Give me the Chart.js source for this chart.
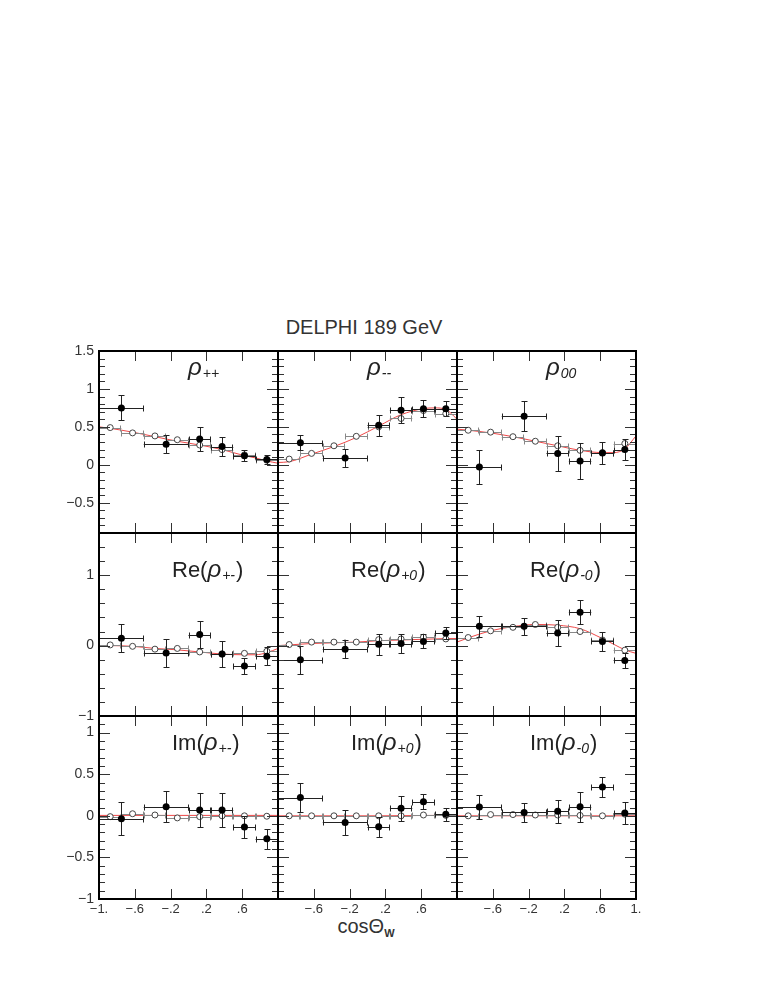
<!DOCTYPE html>
<html>
<head>
<meta charset="utf-8">
<title>DELPHI 189 GeV - W spin density matrix</title>
<script src="https://cdn.jsdelivr.net/npm/chart.js@4.4.1/dist/chart.umd.min.js"></script>
<style>
  body { margin: 0; background: #fff; }
  #wrap { position: relative; width: 763px; height: 987px; font-family: "Liberation Sans", Arial, sans-serif; color: #333; }
  .panel { position: absolute; }
  #title { position: absolute; left: 0; width: 728px; top: 315px; text-align: center; font-size: 20px; line-height: 24px; }
  #xlabel { position: absolute; left: 0; width: 732px; top: 914px; text-align: center; font-size: 20px; line-height: 24px; }
  #xlabel sub { font-size: 11px; font-weight: bold; vertical-align: -4px; }
</style>
</head>
<body>
<div id="wrap">
  <div id="title">DELPHI 189 GeV</div>
  <div id="xlabel">cosΘ<sub>W</sub></div>
</div>
<script>
// bins of the measured points (cos theta_W)
const binX  = [-0.75, -0.25, 0.125, 0.375, 0.625, 0.875];
const binLo = [-1, -0.5, 0, 0.25, 0.5, 0.75];
const binHi = [-0.5, 0, 0.25, 0.5, 0.75, 1];
// simulation points (open circles) and fitted curve abscissae
const mcX  = [-0.875, -0.625, -0.375, -0.125, 0.125, 0.375, 0.625, 0.875];
const fitX = [-1, -0.875, -0.625, -0.375, -0.125, 0.125, 0.375, 0.625, 0.75, 0.875, 1];

// rho++
const rhoPP    = [0.75, 0.27, 0.34, 0.24, 0.12, 0.07];
const rhoPPerr = [0.165, 0.12, 0.155, 0.125, 0.07, 0.06];
const rhoPPmc  = [0.49, 0.42, 0.38, 0.33, 0.26, 0.20, 0.13, 0.06];
const rhoPPfit = [0.50, 0.48, 0.43, 0.37, 0.31, 0.26, 0.20, 0.12, 0.09, 0.05, 0.02];
// rho--
const rhoMM    = [0.29, 0.09, 0.52, 0.72, 0.74, 0.74];
const rhoMMerr = [0.10, 0.12, 0.14, 0.17, 0.11, 0.10];
const rhoMMmc  = [0.075, 0.15, 0.25, 0.375, 0.50, 0.61, 0.715, 0.675];
const rhoMMfit = [0.03, 0.04, 0.14, 0.24, 0.36, 0.51, 0.66, 0.74, 0.75, 0.73, 0.60];
// rho00
const rho00    = [-0.03, 0.64, 0.15, 0.05, 0.155, 0.20];
const rho00err = [0.22, 0.20, 0.23, 0.24, 0.145, 0.14];
const rho00mc  = [0.455, 0.43, 0.37, 0.31, 0.25, 0.19, 0.16, 0.28];
const rho00fit = [0.47, 0.455, 0.42, 0.37, 0.31, 0.25, 0.19, 0.16, 0.16, 0.21, 0.38];
// Re(rho+-)
const rePM    = [0.105, -0.105, 0.157, -0.12, -0.29, -0.15];
const rePMerr = [0.20, 0.20, 0.19, 0.19, 0.12, 0.13];
const rePMmc  = [0.01, -0.01, -0.05, -0.04, -0.09, -0.12, -0.11, -0.08];
const rePMfit = [0.0, 0.0, -0.01, -0.04, -0.06, -0.09, -0.12, -0.13, -0.13, -0.10, -0.04];
// Re(rho+0)
const reP0    = [-0.20, -0.05, 0.02, 0.03, 0.06, 0.18];
const reP0err = [0.20, 0.13, 0.15, 0.13, 0.10, 0.08];
const reP0mc  = [0.015, 0.05, 0.05, 0.05, 0.085, 0.095, 0.12, 0.095];
const reP0fit = [0.0, 0.01, 0.03, 0.04, 0.05, 0.07, 0.08, 0.09, 0.095, 0.10, 0.10];
// Re(rho-0)
const reM0    = [0.275, 0.275, 0.18, 0.475, 0.06, -0.21];
const reM0err = [0.15, 0.12, 0.18, 0.17, 0.13, 0.105];
const reM0mc  = [0.115, 0.21, 0.26, 0.30, 0.26, 0.20, 0.08, -0.065];
const reM0fit = [0.05, 0.11, 0.21, 0.27, 0.30, 0.29, 0.24, 0.10, 0.02, -0.06, -0.11];
// Im(rho+-)
const imPM    = [-0.035, 0.11, 0.07, 0.07, -0.135, -0.275];
const imPMerr = [0.20, 0.19, 0.20, 0.21, 0.13, 0.12];
const imPMmc  = [-0.01, 0.025, 0.01, -0.025, -0.01, 0.0, 0.0, -0.005];
const imPMfit = [0.005, 0.005, 0.005, 0.005, 0.005, 0.005, 0.005, 0.005, 0.005, 0.005, 0.005];
// Im(rho+0)
const imP0    = [0.22, -0.08, -0.13, 0.09, 0.17, 0.02];
const imP0err = [0.18, 0.15, 0.12, 0.15, 0.09, 0.08];
const imP0mc  = [0.0, 0.0, 0.0, 0.0, 0.0, 0.0, 0.01, 0.005];
const imP0fit = [0.0, 0.0, 0.0, 0.0, 0.0, 0.0, 0.002, 0.004, 0.005, 0.005, 0.005];
// Im(rho-0)
const imM0    = [0.105, 0.04, 0.055, 0.11, 0.345, 0.035];
const imM0err = [0.14, 0.12, 0.14, 0.18, 0.12, 0.13];
const imM0mc  = [0.0, 0.015, 0.015, 0.01, 0.01, 0.005, 0.0, 0.02];
const imM0fit = [0.0, 0.0, 0.0, 0.0, 0.0, 0.0, 0.0, 0.0, 0.0, 0.0, 0.0];

// axis tick labels
const xTickVals = [-1, -0.6, -0.2, 0.2, 0.6, 1];
const yTicksTop = [-0.5, 0, 0.5, 1, 1.5];
const yTicksMid = [-1, 0, 1];
const yTicksBot = [-1, -0.5, 0, 0.5, 1];

const rowAxes = [
  { min: -0.9, max: 1.5, ticks: yTicksTop, minor: 0.1, major: 0.5 },
  { min: -1,   max: 1.6, ticks: yTicksMid, minor: 0.2, major: 1 },
  { min: -1,   max: 1.2, ticks: yTicksBot, minor: 0.1, major: 0.5 }
];

const panels = [
  { val: rhoPP, err: rhoPPerr, mc: rhoPPmc, fit: rhoPPfit, pre: '', sub: '++', post: '' },
  { val: rhoMM, err: rhoMMerr, mc: rhoMMmc, fit: rhoMMfit, pre: '', sub: '--', post: '' },
  { val: rho00, err: rho00err, mc: rho00mc, fit: rho00fit, pre: '', sub: '00', post: '' },
  { val: rePM, err: rePMerr, mc: rePMmc, fit: rePMfit, pre: 'Re(', sub: '+-', post: ')' },
  { val: reP0, err: reP0err, mc: reP0mc, fit: reP0fit, pre: 'Re(', sub: '+0', post: ')' },
  { val: reM0, err: reM0err, mc: reM0mc, fit: reM0fit, pre: 'Re(', sub: '-0', post: ')' },
  { val: imPM, err: imPMerr, mc: imPMmc, fit: imPMfit, pre: 'Im(', sub: '+-', post: ')' },
  { val: imP0, err: imP0err, mc: imP0mc, fit: imP0fit, pre: 'Im(', sub: '+0', post: ')' },
  { val: imM0, err: imM0err, mc: imM0mc, fit: imM0fit, pre: 'Im(', sub: '-0', post: ')' }
];

// page geometry of the 3x3 grid
const colLeft = [99, 278, 457];
const colW = 179;
const rowTop = [351, 533, 716];
const rowH = [182, 183, 183];
const labelPos = [ { dx: 89, dy: 24 }, { dx: 73, dy: 44 }, { dx: 73, dy: 34 } ];

const FONT = '"Liberation Sans", Arial, sans-serif';

function fmtY(v) {
  if (v === 0) return '0';
  return (v < 0 ? '\u2212' : '') + Math.abs(v);
}
function fmtX(v) {
  const a = Math.abs(v);
  const s = a === 1 ? '1.' : String(a).replace(/^0/, '');
  return (v < 0 ? '\u2212' : '') + s;
}

function line(ctx, x0, y0, x1, y1) {
  ctx.beginPath();
  ctx.moveTo(x0, y0);
  ctx.lineTo(x1, y1);
  ctx.stroke();
}

// keep the plot area fixed: no extra room reserved for edge labels
function noPadding(s) {
  s.paddingLeft = 0;
  s.paddingRight = 0;
  s.paddingTop = 0;
  s.paddingBottom = 0;
}

// error bars, inward ticks, frame and panel label
const panelDeco = {
  id: 'panelDeco',
  beforeDatasetDraw(chart, args) {
    const ds = chart.data.datasets[args.index];
    if (!ds.bars) return;
    const ctx = chart.ctx;
    const xs = chart.scales.x, ys = chart.scales.y;
    ctx.save();
    ctx.strokeStyle = ds.barColor;
    ctx.lineWidth = 1;
    ds.data.forEach(p => {
      const px = Math.round(xs.getPixelForValue(p.x)) + 0.5;
      const py = Math.round(ys.getPixelForValue(p.y)) + 0.5;
      const x0 = xs.getPixelForValue(p.xlo), x1 = xs.getPixelForValue(p.xhi);
      line(ctx, x0, py, x1, py);
      line(ctx, Math.round(x0) + 0.5, py - 3, Math.round(x0) + 0.5, py + 3);
      line(ctx, Math.round(x1) - 0.5, py - 3, Math.round(x1) - 0.5, py + 3);
      if (p.ey) {
        const y0 = Math.round(ys.getPixelForValue(p.y - p.ey)) + 0.5;
        const y1 = Math.round(ys.getPixelForValue(p.y + p.ey)) + 0.5;
        line(ctx, px, y0, px, y1);
        line(ctx, px - 3, y0, px + 3, y0);
        line(ctx, px - 3, y1, px + 3, y1);
      }
    });
    ctx.restore();
  },
  afterDraw(chart, args, opts) {
    const ctx = chart.ctx;
    const { left, right, top, bottom } = chart.chartArea;
    const xs = chart.scales.x, ys = chart.scales.y;
    const ax = opts.axis;
    ctx.save();
    ctx.strokeStyle = '#333';
    ctx.lineWidth = 1;
    for (let k = Math.ceil(ax.min / ax.minor - 1e-6); k * ax.minor < ax.max - 1e-6; k++) {
      const v = k * ax.minor;
      if (v <= ax.min + 1e-6) continue;
      const py = Math.round(ys.getPixelForValue(v)) + 0.5;
      const r = v / ax.major;
      const len = Math.abs(r - Math.round(r)) < 1e-6 ? 11 : 6;
      line(ctx, left, py, left + len, py);
      line(ctx, right, py, right - len, py);
    }
    xTickVals.forEach(v => {
      if (Math.abs(v) === 1) return;
      const px = Math.round(xs.getPixelForValue(v)) + 0.5;
      line(ctx, px, top, px, top + 10);
      line(ctx, px, bottom, px, bottom - 10);
    });
    ctx.strokeStyle = '#000';
    ctx.lineWidth = 2;
    ctx.strokeRect(left, top, right - left, bottom - top);

    // panel label
    const lab = opts.label;
    let x = left + lab.dx;
    const y = top + lab.dy;
    ctx.fillStyle = '#222';
    ctx.textBaseline = 'alphabetic';
    ctx.textAlign = 'left';
    ctx.font = '22px ' + FONT;
    if (lab.pre) { ctx.fillText(lab.pre, x, y); x += ctx.measureText(lab.pre).width; }
    ctx.font = 'italic 24px ' + FONT;
    ctx.fillText('\u03C1', x, y);
    x += ctx.measureText('\u03C1').width + 1;
    ctx.font = 'italic 14px ' + FONT;
    ctx.fillText(lab.sub, x, y + 3);
    x += ctx.measureText(lab.sub).width + 1;
    ctx.font = '22px ' + FONT;
    if (lab.post) ctx.fillText(lab.post, x, y);
    ctx.restore();
  }
};

const wrap = document.getElementById('wrap');

panels.forEach((p, i) => {
  const r = Math.floor(i / 3), c = i % 3;
  const padL = c === 0 ? 50 : 0;
  const padR = c === 2 ? 14 : 0;
  const padT = 12;
  const padB = r === 2 ? 28 : 12;
  const w = colW + padL + padR;
  const h = rowH[r] + padT + padB;

  const box = document.createElement('div');
  box.className = 'panel';
  box.style.left = (colLeft[c] - padL) + 'px';
  box.style.top = (rowTop[r] - padT) + 'px';
  box.style.width = w + 'px';
  box.style.height = h + 'px';
  const canvas = document.createElement('canvas');
  canvas.width = w;
  canvas.height = h;
  canvas.style.width = w + 'px';
  canvas.style.height = h + 'px';
  box.appendChild(canvas);
  wrap.appendChild(box);

  const ax = rowAxes[r];
  const measured = binX.map((x, k) => ({ x: x, y: p.val[k], xlo: binLo[k], xhi: binHi[k], ey: p.err[k] }));
  const simulated = mcX.map((x, k) => ({ x: x, y: p.mc[k], xlo: x - 0.125, xhi: x + 0.125, ey: 0 }));
  const curve = fitX.map((x, k) => ({ x: x, y: p.fit[k] }));

  new Chart(canvas, {
    type: 'scatter',
    data: {
      datasets: [
        {
          label: 'data', data: measured, order: 0,
          bars: true, barColor: '#222',
          pointRadius: 3.5, pointHoverRadius: 3.5,
          backgroundColor: '#000', borderColor: '#000', borderWidth: 0
        },
        {
          label: 'simulation', data: simulated, order: 1,
          bars: true, barColor: '#888',
          pointRadius: 3, pointHoverRadius: 3,
          backgroundColor: '#fff', borderColor: '#444', borderWidth: 1
        },
        {
          label: 'fit', data: curve, order: 2,
          showLine: true, cubicInterpolationMode: 'monotone',
          pointRadius: 0, borderColor: 'rgba(235,40,40,0.85)', borderWidth: 1
        }
      ]
    },
    options: {
      responsive: false,
      animation: false,
      events: [],
      layout: { autoPadding: false, padding: { left: 0, right: padR, top: padT, bottom: r === 2 ? 0 : padB } },
      plugins: {
        legend: { display: false },
        tooltip: { enabled: false },
        panelDeco: { axis: ax, label: Object.assign({}, p, labelPos[r]) }
      },
      scales: {
        x: {
          type: 'linear', min: -1, max: 1,
          display: r === 2,
          grid: { display: false, drawTicks: false },
          border: { display: false },
          afterBuildTicks: s => { s.ticks = xTickVals.map(v => ({ value: v })); },
          afterFit: s => { s.height = r === 2 ? padB : 0; noPadding(s); },
          ticks: {
            autoSkip: false, maxRotation: 0, padding: 3,
            color: '#333', font: { family: FONT, size: 13 },
            callback: v => {
              if (v === -1 && c !== 0) return '';
              if (v === 1 && c !== 2) return '';
              return fmtX(v);
            }
          }
        },
        y: {
          type: 'linear', min: ax.min, max: ax.max,
          display: c === 0,
          grid: { display: false, drawTicks: false },
          border: { display: false },
          afterBuildTicks: s => { s.ticks = ax.ticks.map(v => ({ value: v })); },
          afterFit: s => { s.width = c === 0 ? padL : 0; noPadding(s); },
          ticks: {
            autoSkip: false, padding: 5,
            color: '#333', font: { family: FONT, size: 14 },
            callback: v => fmtY(v)
          }
        }
      }
    },
    plugins: [panelDeco]
  });
});
</script>
</body>
</html>
